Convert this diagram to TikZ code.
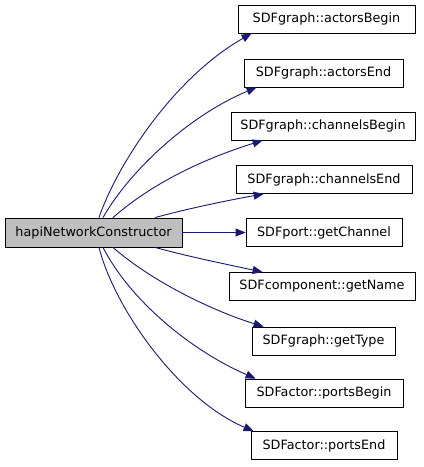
\documentclass[tikz,border=0pt]{standalone}
\usepackage{fontspec}
\setmainfont{DejaVu Sans}
\usetikzlibrary{arrows.meta}
\definecolor{edgeblue}{HTML}{191970}
\definecolor{mainfill}{HTML}{BFBFBF}
\begin{document}
\begin{tikzpicture}[x=1pt,y=-1pt,
  box/.style={draw=black,line width=0.8pt,fill=white,minimum height=28pt,inner sep=0pt,font=\fontsize{12.8}{14}\selectfont},
  mainbox/.style={box,fill=mainfill,minimum height=29pt},
  edge/.style={draw=edgeblue,line width=0.9pt,-{Triangle[length=10pt,width=8pt]}}]
\useasboundingbox[fill=white] (0,0) rectangle (424,467);
\node[mainbox,minimum width=177pt] (main) at (93.5,232.5) {hapiNetworkConstructor};
\node[box,minimum width=177pt] (a1) at (326.5,19) {SDFgraph::actorsBegin};
\node[box,minimum width=159pt] (a2) at (323.5,73) {SDFgraph::actorsEnd};
\node[box,minimum width=184pt] (a3) at (323,126) {SDFgraph::channelsBegin};
\node[box,minimum width=176pt] (a4) at (324,179.5) {SDFgraph::channelsEnd};
\node[box,minimum width=156pt] (a5) at (324,232.5) {SDFport::getChannel};
\node[box,minimum width=186pt] (a6) at (322,286.5) {SDFcomponent::getName};
\node[box,minimum width=143pt] (a7) at (323.5,341) {SDFgraph::getType};
\node[box,minimum width=158pt] (a8) at (324,393) {SDFactor::portsBegin};
\node[box,minimum width=146pt] (a9) at (324,445.5) {SDFactor::portsEnd};
\draw[edge] ([xshift=5.5pt]main.north) .. controls (115,170) and (170,80) .. ([xshift=14pt]a1.south west);
\draw[edge] ([xshift=9.5pt]main.north) .. controls (130,170) and (190,115) .. ([xshift=13pt]a2.south west);
\draw[edge] ([xshift=19.5pt]main.north) .. controls (150,185) and (200,160) .. ([xshift=32pt]a3.south west);
\draw[edge] ([xshift=61.5pt]main.north) .. controls (190,208) and (230,200) .. ([xshift=28pt]a4.south west);
\draw[edge] (main.east) -- (a5.west);
\draw[edge] ([xshift=61.5pt]main.south) .. controls (190,257) and (230,265) .. ([xshift=34pt]a6.north west);
\draw[edge] ([xshift=19.5pt]main.south) .. controls (150,280) and (210,310) .. ([xshift=12pt]a7.north west);
\draw[edge] ([xshift=9.5pt]main.south) .. controls (130,300) and (190,350) .. ([xshift=11pt]a8.north west);
\draw[edge] ([xshift=5.5pt]main.south) .. controls (115,310) and (180,400) .. ([xshift=3pt]a9.north west);
\end{tikzpicture}
\end{document}
